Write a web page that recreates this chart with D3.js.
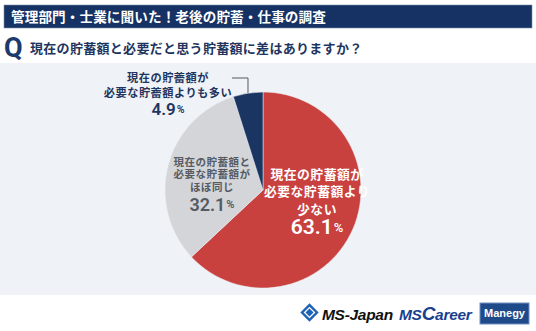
<!DOCTYPE html>
<html><head><meta charset="utf-8">
<script src="https://cdn.jsdelivr.net/npm/d3@7"></script>
<style>
html,body{margin:0;padding:0;background:#fff;}
svg{display:block;font-family:"Noto Sans CJK JP","Noto Sans",sans-serif;}
</style></head>
<body>
<svg id="c" width="536" height="331"></svg>
<script>
const title = "管理部門・士業に聞いた！老後の貯蓄・仕事の調査";
const question = "現在の貯蓄額と必要だと思う貯蓄額に差はありますか？";
const categories = ["現在の貯蓄額が必要な貯蓄額より少ない", "現在の貯蓄額と必要な貯蓄額がほぼ同じ", "現在の貯蓄額が必要な貯蓄額よりも多い"];
const values = [63.1, 32.1, 4.9];
const labelLines = [["現在の貯蓄額が","必要な貯蓄額より","少ない"],["現在の貯蓄額と","必要な貯蓄額が","ほぼ同じ"],["現在の貯蓄額が","必要な貯蓄額よりも多い"]];
const percentLabels = ["63.1", "32.1", "4.9"];
const colors = ["#c8413f", "#d3d5d9", "#1b3563"];

const svg = d3.select("#c");
// background panel
svg.append("rect").attr("x",0).attr("y",63).attr("width",536).attr("height",232).attr("fill","#eff2f6");
// title bar
svg.append("rect").attr("x",4).attr("y",5).attr("width",528).attr("height",23).attr("fill","#163264")
  .attr("stroke","#7d8fae").attr("stroke-width",0.6);
svg.append("text").attr("x",11).attr("y",22).attr("fill","#fff").attr("font-size",13.6).attr("font-weight",700)
  .attr("letter-spacing",0.1).text(title);
// Q
svg.append("text").attr("x",4).attr("y",57).attr("fill","#1c3a6b").attr("font-size",27).attr("font-weight",700)
  .attr("font-family","Roboto, 'Noto Sans', sans-serif").text("Q");
svg.append("text").attr("x",30).attr("y",53).attr("fill","#1e3560").attr("font-size",13).attr("font-weight",700)
  .attr("letter-spacing",0.3).text(question);

// pie
const cx = 263, cy = 190, R = 98;
const pie = d3.pie().sort(null).value(d=>d)(values);
const arc = d3.arc().innerRadius(0).outerRadius(R);
const g = svg.append("g").attr("transform",`translate(${cx},${cy})`);
g.selectAll("path").data(pie).join("path").attr("d",arc).attr("fill",(d,i)=>colors[i])
  .attr("stroke","#eef0f3").attr("stroke-width",0.5);

// labels
const labelPos = [[54, -17], [-51, -29], [-95, -113]];
const txtColors = ["#ffffff", "#555a63", "#1e3560"];
const lineFont = [12.8, 10.5, 11.2];
const lineGap = [17.5, 12.5, 15];
const pctFont = [21, 18, 17];
const pctGap = [18.5, 18, 17];
pie.forEach((d,i)=>{
  const [ox, oy] = labelPos[i];
  const t = g.append("g").attr("transform",`translate(${ox},${oy})`);
  labelLines[i].forEach((ln,j)=>{
    t.append("text").attr("x",0).attr("y",j*lineGap[i]).attr("text-anchor","middle").attr("dominant-baseline","central")
      .attr("fill",txtColors[i]).attr("font-size",lineFont[i]).attr("font-weight",700).attr("letter-spacing",0.5).text(ln);
  });
  const py = (labelLines[i].length-1)*lineGap[i] + pctGap[i];
  const p = t.append("text").attr("x",0).attr("y",py).attr("text-anchor","middle").attr("dominant-baseline","central")
    .attr("fill",txtColors[i]).attr("font-weight",600).attr("font-family","Roboto, 'Noto Sans', sans-serif");
  p.append("tspan").attr("font-size",pctFont[i]).text(percentLabels[i]);
  p.append("tspan").attr("font-size",pctFont[i]*0.62).attr("dx",1).text("%");
});

// leader line for small slice
const s = pie[2];
const mid = (s.startAngle + s.endAngle)/2;
const ex = Math.sin(mid)*R, ey = -Math.cos(mid)*R;
g.append("path").attr("d",`M${-31},${-112}H${ex}V${ey}`).attr("fill","none").attr("stroke","#555a63").attr("stroke-width",1);

// footer logos
const f = svg.append("g");
f.append("rect").attr("x",303).attr("y",306).attr("width",13).attr("height",13)
  .attr("transform","rotate(45,309.5,312.5)").attr("fill","#1f63b5");
f.append("rect").attr("x",306).attr("y",309).attr("width",7).attr("height",7)
  .attr("transform","rotate(45,309.5,312.5)").attr("fill","none").attr("stroke","#fff").attr("stroke-width",1.3);
f.append("text").attr("x",322).attr("y",320).attr("font-family","'Liberation Sans', Arial, sans-serif").attr("font-size",15.5)
  .attr("font-weight",700).attr("font-style","italic").attr("fill","#111").attr("letter-spacing",-0.3).text("MS-Japan");
const mc = f.append("text").attr("x",399).attr("y",320).attr("font-family","'Liberation Sans', Arial, sans-serif")
  .attr("font-weight",700).attr("font-style","italic").attr("fill","#1a3f8f").attr("letter-spacing",-0.3);
mc.append("tspan").attr("font-size",15.5).text("MS");
mc.append("tspan").attr("font-size",19).text("C");
mc.append("tspan").attr("font-size",15.5).text("areer");
f.append("rect").attr("x",480).attr("y",303).attr("width",49).attr("height",21).attr("fill","#1e4a8a")
  .attr("stroke","#6f8fc0").attr("stroke-width",1);
f.append("text").attr("x",504.5).attr("y",317).attr("text-anchor","middle").attr("font-family","'Liberation Sans', Arial, sans-serif")
  .attr("font-size",11).attr("font-weight",700).attr("fill","#fff").text("Manegy");
</script>
</body></html>
